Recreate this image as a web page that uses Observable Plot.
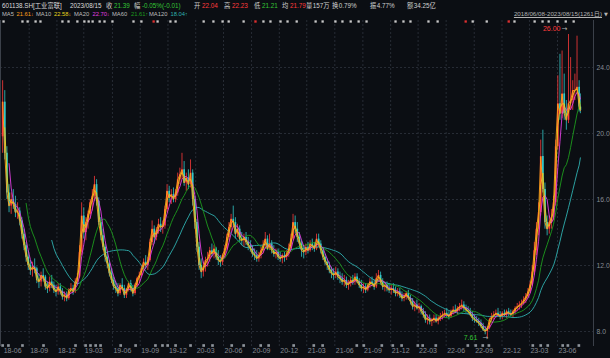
<!DOCTYPE html>
<html><head><meta charset="utf-8">
<script src="https://cdn.jsdelivr.net/npm/d3@7"></script>
<script src="https://cdn.jsdelivr.net/npm/@observablehq/plot@0.6"></script>
<style>
html,body{margin:0;padding:0;background:#0b0e13;}
body{width:610px;height:358px;overflow:hidden;position:relative;font-family:"Liberation Sans","Noto Sans CJK SC",sans-serif;}
.t{position:absolute;white-space:nowrap;font-size:6.3px;line-height:8px;}
.a{font-size:5px;font-family:"Liberation Sans","DejaVu Sans",sans-serif;}
</style></head><body>
<div id="hdr"></div>
<div id="chart" style="position:absolute;left:0;top:18px"></div>
<script>
// ---- data (weekly bars: [open, high, low, close]) ----
const firstWeek = "2018-06-08";
const lastDay = "2023-08-15";
const ohlc2018 = [
[19.8,23.2,18.8,21.9],[21.9,22.6,18.4,18.8],[18.8,19.2,16.0,16.4],[16.4,16.9,15.2,15.6],[15.6,16.4,15.1,16.0],
[16.0,16.6,15.4,15.7],[15.7,16.2,14.9,15.2],[15.2,15.8,14.8,15.3],[15.3,15.5,14.4,14.7],[14.7,14.9,13.6,13.9],
[13.9,14.2,12.9,13.2],[13.2,13.4,12.2,12.5],[12.5,12.9,11.7,12.0],[12.0,12.3,11.4,11.7],[11.7,12.2,11.3,11.9],
[11.9,12.4,11.5,11.8],[11.8,11.9,10.9,11.1],[11.1,11.5,10.6,11.0],[11.0,11.6,10.7,11.4],[11.4,11.8,11.0,11.3],
[11.3,11.4,10.5,10.7],[10.7,11.0,10.3,10.6],[10.6,11.3,10.4,11.0],[11.0,11.4,10.6,10.8],[10.8,11.0,10.3,10.5],
[10.5,10.8,10.1,10.4],[10.4,10.9,10.2,10.7],[10.7,10.9,10.2,10.4],[10.4,10.6,9.9,10.1],[10.1,10.4,9.8,10.2]];
const ohlc2019 = [
[10.2,10.4,9.8,10.0],[10.0,10.6,9.9,10.5],[10.5,10.9,10.3,10.6],[10.6,10.8,10.2,10.4],[10.4,11.2,10.3,11.0],
[11.0,11.5,10.9,11.3],[11.3,13.2,11.2,12.8],[12.8,15.8,12.6,15.0],[15.0,15.5,13.6,14.0],[14.0,14.9,13.5,14.6],
[14.6,15.3,14.2,15.1],[15.1,16.0,14.8,15.8],[15.8,16.6,15.3,16.2],[16.2,17.4,15.9,16.9],[16.9,17.2,15.6,15.9],
[15.9,16.1,14.4,14.6],[14.6,14.9,13.5,13.8],[13.8,14.2,12.9,13.1],[13.1,13.3,12.2,12.5],[12.5,12.8,11.8,12.1],
[12.1,12.3,11.3,11.5],[11.5,11.8,10.9,11.1],[11.1,11.3,10.5,10.7],[10.7,11.0,10.3,10.6],[10.6,10.9,10.1,10.3],
[10.3,10.9,10.2,10.8],[10.8,11.2,10.5,10.6],[10.6,10.8,10.0,10.2],[10.2,10.6,10.0,10.5],[10.5,11.0,10.4,10.9],
[10.9,11.1,10.4,10.6],[10.6,10.8,10.1,10.3],[10.3,10.9,10.2,10.8],[10.8,11.3,10.7,11.2],[11.2,11.6,10.9,11.4],
[11.4,12.0,11.3,11.8],[11.8,12.4,11.6,12.2],[12.2,12.6,11.8,12.0],[12.0,12.5,11.7,12.3],[12.3,13.6,12.2,13.4],
[13.4,14.7,13.2,14.2],[14.2,14.4,13.3,13.7],[13.7,14.3,13.5,14.1],[14.1,14.8,13.9,14.5],[14.5,14.9,14.0,14.3],
[14.3,14.7,13.9,14.4],[14.4,15.6,14.2,15.4],[15.4,16.9,15.2,16.5],[16.5,16.8,15.8,16.1],[16.1,16.6,15.7,16.3],
[16.3,16.7,15.8,16.0],[16.0,16.6,15.8,16.4]];
const ohlc2020 = [
[16.4,17.6,16.2,17.2],[17.2,17.9,16.9,17.5],[17.5,18.8,17.2,17.8],[17.8,18.3,16.8,17.0],[17.0,17.6,16.5,17.3],
[17.3,17.8,16.6,16.9],[16.9,18.4,16.7,17.6],[17.6,17.8,15.6,16.0],[16.0,16.2,14.2,14.6],[14.6,14.8,12.8,13.1],
[13.1,13.4,11.7,12.0],[12.0,12.4,11.2,11.6],[11.6,12.2,11.3,11.9],[11.9,12.5,11.6,12.3],[12.3,12.8,11.9,12.4],
[12.4,13.1,12.2,12.9],[12.9,13.3,12.5,12.7],[12.7,13.2,12.4,13.0],[13.0,13.1,12.3,12.5],[12.5,12.9,12.0,12.3],
[12.3,12.6,11.9,12.2],[12.2,12.7,12.0,12.6],[12.6,13.2,12.4,13.0],[13.0,13.9,12.9,13.7],[13.7,14.6,13.5,14.3],
[14.3,15.1,14.0,14.8],[14.8,15.6,14.3,14.6],[14.6,14.9,13.6,13.9],[13.9,14.5,13.7,14.2],[14.2,14.4,13.4,13.6],
[13.6,14.0,13.2,13.5],[13.5,13.9,13.1,13.7],[13.7,14.0,13.2,13.4],[13.4,13.7,12.9,13.2],[13.2,13.5,12.8,13.0],
[13.0,13.2,12.5,12.7],[12.7,13.0,12.3,12.6],[12.6,12.9,12.2,12.4],[12.4,12.8,12.2,12.6],[12.6,13.1,12.4,12.9],
[12.9,13.5,12.7,13.2],[13.2,14.0,13.0,13.6],[13.6,13.8,12.9,13.0],[13.0,13.9,12.9,13.3],[13.3,13.5,12.7,12.9],
[12.9,13.2,12.5,12.7],[12.7,13.0,12.4,12.8],[12.8,13.0,12.3,12.5],[12.5,12.8,12.2,12.4],[12.4,12.7,12.1,12.6],
[12.6,12.8,12.2,12.5],[12.5,12.9,12.3,12.7]];
const ohlc2021 = [
[12.7,13.3,12.5,13.0],[13.0,13.9,12.9,13.6],[13.6,15.1,13.5,14.6],[14.6,15.0,13.9,14.2],[14.2,14.6,13.4,13.7],
[13.7,14.0,13.0,13.3],[13.3,13.5,12.5,12.9],[12.9,13.2,12.4,12.8],[12.8,13.3,12.6,13.1],[13.1,13.4,12.7,12.9],
[12.9,13.5,12.8,13.3],[13.3,13.6,12.9,13.2],[13.2,13.4,12.8,13.0],[13.0,13.9,12.9,13.6],[13.6,13.9,13.1,13.3],
[13.3,13.5,12.7,12.9],[12.9,13.1,12.3,12.5],[12.5,12.7,12.0,12.2],[12.2,12.4,11.7,12.0],[12.0,12.2,11.5,11.7],
[11.7,11.9,11.2,11.5],[11.5,11.8,11.1,11.4],[11.4,11.9,11.2,11.6],[11.6,11.8,11.1,11.3],[11.3,11.6,10.9,11.2],
[11.2,11.5,10.8,11.0],[11.0,11.4,10.7,11.1],[11.1,11.3,10.6,10.8],[10.8,11.1,10.5,10.9],[10.9,11.3,10.7,11.1],
[11.1,11.4,10.8,11.0],[11.0,11.5,10.8,11.3],[11.3,11.5,10.9,11.0],[11.0,11.2,10.6,10.8],[10.8,11.1,10.4,10.6],
[10.6,10.9,10.3,10.7],[10.7,10.9,10.3,10.5],[10.5,10.9,10.4,10.8],[10.8,11.2,10.6,11.0],[11.0,11.3,10.7,10.9],
[10.9,11.1,10.5,10.7],[10.7,11.5,10.6,11.2],[11.2,11.7,11.0,11.4],[11.4,11.6,10.8,11.0],[11.0,11.2,10.5,10.7],
[10.7,11.0,10.4,10.8],[10.8,11.0,10.4,10.6],[10.6,10.9,10.3,10.5],[10.5,10.8,10.2,10.6],[10.6,10.9,10.3,10.5],
[10.5,10.7,10.1,10.3],[10.3,10.6,10.1,10.4],[10.4,10.6,10.0,10.2]];
const ohlc2022 = [
[10.2,10.4,9.8,10.0],[10.0,10.3,9.8,10.1],[10.1,10.4,9.9,10.3],[10.3,10.5,9.9,10.0],[10.0,10.2,9.6,9.8],
[9.8,10.0,9.3,9.5],[9.5,9.8,9.2,9.6],[9.6,9.9,9.3,9.4],[9.4,9.7,9.1,9.5],[9.5,9.6,9.0,9.2],
[9.2,9.4,8.8,9.0],[9.0,9.2,8.5,8.7],[8.7,9.0,8.4,8.8],[8.8,9.0,8.4,8.6],[8.6,8.8,8.3,8.7],
[8.7,9.0,8.5,8.8],[8.8,9.0,8.5,8.6],[8.6,8.9,8.4,8.8],[8.8,9.1,8.6,8.9],[8.9,9.2,8.7,9.0],
[9.0,9.3,8.8,9.1],[9.1,9.4,8.8,9.0],[9.0,9.2,8.7,8.9],[8.9,9.3,8.8,9.2],[9.2,9.5,9.0,9.3],
[9.3,9.6,9.1,9.2],[9.2,9.5,9.0,9.4],[9.4,9.7,9.2,9.5],[9.5,9.9,9.3,9.6],[9.6,9.8,9.2,9.4],
[9.4,9.6,9.1,9.3],[9.3,9.5,9.0,9.2],[9.2,9.4,8.9,9.0],[9.0,9.2,8.6,8.8],[8.8,9.0,8.5,8.7],
[8.7,8.9,8.5,8.6],[8.6,8.8,8.3,8.5],[8.5,8.7,8.2,8.3],[8.3,8.5,8.0,8.1],[8.1,8.3,7.8,8.0],
[8.0,8.3,7.61,8.2],[8.2,8.8,8.1,8.7],[8.7,9.1,8.5,8.9],[8.9,9.2,8.7,9.0],[9.0,9.3,8.8,9.1],
[9.1,9.4,8.9,9.0],[9.0,9.2,8.7,8.9],[8.9,9.2,8.7,9.1],[9.1,9.3,8.9,9.0],[9.0,9.3,8.8,9.2],
[9.2,9.4,8.9,9.1],[9.1,9.3,8.9,9.0]];
const ohlc2023 = [
[9.0,9.3,8.8,9.2],[9.2,9.5,9.0,9.4],[9.4,9.7,9.2,9.5],[9.5,9.8,9.3,9.6],[9.6,9.9,9.4,9.7],
[9.7,10.1,9.6,9.9],[9.9,10.3,9.7,10.1],[10.1,10.6,10.0,10.4],[10.4,11.0,10.3,10.8],[10.8,12.0,10.7,11.6],
[11.6,13.4,11.4,12.9],[12.9,14.6,12.6,14.2],[14.2,15.8,13.8,15.2],[15.2,19.6,15.0,18.6],[18.6,20.2,16.4,16.6],
[16.6,17.0,14.2,14.6],[14.6,15.0,13.8,14.2],[14.2,15.0,13.9,14.6],[14.6,15.4,14.2,14.9],[14.9,16.2,14.7,15.8],
[15.8,19.6,15.6,19.2],[19.2,23.5,19.0,21.8],[21.8,24.8,20.8,21.2],[21.2,25.0,20.9,22.4],[22.4,23.6,20.8,21.2],
[21.2,22.0,20.2,20.8],[20.8,26.0,20.6,21.8],[21.8,24.6,21.4,22.0],[22.0,23.2,21.4,22.6],[22.6,23.6,22.0,22.6],
[22.6,25.9,22.4,22.8],[22.8,23.2,21.3,21.6],[21.6,22.4,21.2,21.39]];

const yTicks = [8, 12, 16, 20, 24];
const quarterLabels = ["18-06","18-09","18-12","19-03","19-06","19-09","19-12","20-03","20-06","20-09","20-12",
  "21-03","21-06","21-09","21-12","22-03","22-06","22-09","22-12","23-03","23-06"];
const quarterDates = ["2018-06-08","2018-09-03","2018-12-03","2019-03-01","2019-06-03","2019-09-02","2019-12-02",
  "2020-03-02","2020-06-01","2020-09-01","2020-12-01","2021-03-01","2021-06-01","2021-09-01","2021-12-01",
  "2022-03-01","2022-06-01","2022-09-01","2022-12-01","2023-03-01","2023-06-01"];
const maNames = ["MA5","MA10","MA20","MA60","MA120"];
const maWeeks = [1, 2, 4, 12, 24];
const maValues = ["21.61","22.58","22.70","21.61","18.04"];
const maTrend = ["↓","↓","↓","↑","↑"];
const stockName = "601138.SH[工业富联]";
const quoteDate = "2023/08/15";
const quoteLabels = ["收","幅","开","高","低","均","量","换","振","额"];
const quoteValues = ["21.39","-0.05%(-0.01)","22.04","22.23","21.21","21.79","157万","0.79%","4.77%","34.25亿"];
const rangeText = "2018/06/08-2023/08/15(1261日)";
const topMarks = ["2018-06-11","2018-08-12","2018-08-29","2018-09-24","2018-10-10","2018-12-21","2019-01-10","2019-02-08",
  "2019-03-03","2019-03-17","2019-03-30","2019-04-22","2019-05-08","2019-06-03","2019-08-11","2019-09-06","2019-10-29",
  "2019-12-10","2019-12-27","2020-03-28","2020-04-29","2020-05-29","2020-06-18","2020-08-06","2020-10-10","2020-11-02",
  "2020-12-05","2020-12-28","2021-01-27","2021-03-30","2021-04-22","2021-06-03","2021-06-26","2021-07-23","2021-08-18",
  "2021-09-13","2021-12-17","2022-01-12","2022-02-04","2022-04-04","2022-05-04","2022-08-27","2022-10-12","2023-01-11",
  "2023-03-18","2023-04-13","2023-05-03","2023-06-01","2023-06-28","2023-07-24"];
const topMarksRed = ["2019-10-16","2020-09-14","2022-08-04","2022-12-23"];
const bottomMarks = ["2018-06-08","2018-06-27","2018-08-12","2018-10-20","2019-02-02","2019-03-07","2019-03-23","2019-04-09",
  "2019-04-25","2019-06-30","2019-08-18","2019-10-22","2019-11-14","2019-12-01","2019-12-27","2020-02-14","2020-03-28",
  "2020-04-26","2020-06-28","2020-08-06","2020-10-01","2020-10-27","2021-01-17","2021-03-24","2021-04-22","2021-08-12",
  "2021-09-04","2021-11-02","2021-12-08","2022-01-06","2022-02-28","2022-03-16","2022-04-28","2022-08-11","2022-09-06",
  "2022-09-29","2022-10-19","2023-03-12","2023-04-07","2023-04-30","2023-06-18","2023-07-05","2023-08-10"];

// ---- build ----
const bars = [].concat(ohlc2018, ohlc2019, ohlc2020, ohlc2021, ohlc2022, ohlc2023);
const start = new Date(firstWeek);
const data = bars.map(([o, h, l, c], i) => ({
  date: i === bars.length - 1 ? new Date(lastDay) : d3.utcDay.offset(start, 7 * i),
  open: o, high: h, low: l, close: c
}));
const UP = "#ff3b3b", DOWN = "#33c8c8", GREEN = "#35c435";
const candleColor = d => d.close >= d.open ? UP : DOWN;
const maColors = ["#ff9f1a", "#e8d41c", "#e03ee0", "#1d9b1d", "#2fb0b0"];
const xDomain = [new Date("2018-06-01"), new Date("2023-09-27")];
const hi = d3.greatest(data, d => d.high);
const lo = d3.least(data, d => d.low);
const toDate = s => new Date(s);

const chart = Plot.plot({
  width: 610, height: 340,
  marginLeft: 0, marginRight: 17, marginTop: 2, marginBottom: 12,
  style: {background: "transparent", color: "#868b93", fontSize: "6.8px", fontFamily: "Liberation Sans, sans-serif", overflow: "visible"},
  x: {type: "utc", domain: xDomain, axis: null},
  y: {domain: [7.09, 26.85], axis: "right", ticks: yTicks, tickFormat: d => d.toFixed(1), tickSize: 0, tickPadding: 3, label: null},
  marks: [
    Plot.ruleY(yTicks, {stroke: "#272c35", strokeDasharray: "2,2"}),
    Plot.ruleX(quarterDates.slice(1).map(toDate), {stroke: "#272c35", strokeDasharray: "2,2"}),
    Plot.ruleX(xDomain, {stroke: "#3b4049"}),
    Plot.ruleX(data, {x: "date", y1: "low", y2: "high", stroke: candleColor, strokeWidth: 0.8}),
    Plot.ruleX(data, {x: "date", y1: "open", y2: "close", stroke: candleColor, strokeWidth: 1.7}),
    ...[4, 3, 2, 1, 0].map(j => Plot.lineY(data, Plot.windowY(
      {k: maWeeks[j], anchor: "end", strict: true, reduce: "mean"},
      {x: "date", y: "close", stroke: maColors[j], strokeWidth: 0.9}))),
    Plot.text([hi], {x: "date", y: "high", text: d => d.high.toFixed(2), textAnchor: "end", dx: -8, dy: -6, fill: UP, fontSize: 7}),
    Plot.text([hi], {x: "date", y: "high", text: () => "→", textAnchor: "end", dx: -1, dy: -6, fill: "#b0b0b0", fontSize: 7, fontFamily: "DejaVu Sans"}),
    Plot.text([lo], {x: "date", y: "low", text: d => d.low.toFixed(2), textAnchor: "end", dx: -10, fill: GREEN, fontSize: 7}),
    Plot.text([lo], {x: "date", y: "low", text: () => "→", textAnchor: "end", dx: 1, fill: "#b0b0b0", fontSize: 7, fontFamily: "DejaVu Sans"}),
    Plot.dot(topMarks.map(toDate), {x: d => d, frameAnchor: "top", dy: 1, symbol: "square", r: 1.3, fill: "#c9c9c9"}),
    Plot.dot(topMarksRed.map(toDate), {x: d => d, frameAnchor: "top", dy: 1, symbol: "square", r: 1.3, fill: "#e03030"}),
    Plot.dot(bottomMarks.map(toDate), {x: d => d, frameAnchor: "bottom", dy: -1, symbol: "square", r: 1.5, fill: "#8e949b"}),
    Plot.text(quarterDates.map(toDate), {x: d => d, text: quarterLabels, frameAnchor: "bottom", dy: 6, dx: 1, textAnchor: "start", fill: "#868b93", fontSize: 7})
  ]
});
document.getElementById("chart").appendChild(chart);

// ---- header ----
const hdr = document.getElementById("hdr");
function put(txt, left, top, color, extra, arrow) {
  const s = document.createElement("span");
  s.className = "t";
  s.style.left = left + "px"; s.style.top = top + "px"; s.style.color = color;
  if (extra) Object.assign(s.style, extra);
  s.textContent = txt;
  if (arrow) { const a = document.createElement("span"); a.className = "a"; a.textContent = arrow; s.appendChild(a); }
  hdr.appendChild(s);
  return s;
}
put(stockName, 2, 2, "#dcdcdc");
put(quoteDate, 70, 2, "#dcdcdc");
const qLeft = [106, 134, 194, 224, 254, 282, 306, 332, 370, 407];
const qColor = [GREEN, GREEN, UP, UP, GREEN, UP, "#d0d0d0", "#d0d0d0", "#d0d0d0", "#d0d0d0"];
quoteLabels.forEach((l, i) => {
  put(l, qLeft[i], 2, "#d0d0d0");
  put(quoteValues[i], qLeft[i] + (i < 6 ? 8 : 6.8), 2, qColor[i]);
});
const mLeft = [2, 36, 74, 112, 149], mvLeft = [16.5, 54, 92.5, 131, 170.5];
maNames.forEach((n, i) => {
  put(n, mLeft[i], 10, "#bdbdbd", {fontSize: "5.8px"});
  put(maValues[i], mvLeft[i], 10, maColors[i], {fontSize: "5.8px"}, maTrend[i]);
});
put(rangeText, null, 10, "#b4b4b4", {left: "auto", right: "8px", textDecoration: "underline", fontSize: "6.2px"});
put("▼", 604, 10, "#b4b4b4", {fontSize: "5px", fontFamily: "DejaVu Sans"});
</script></body></html>
